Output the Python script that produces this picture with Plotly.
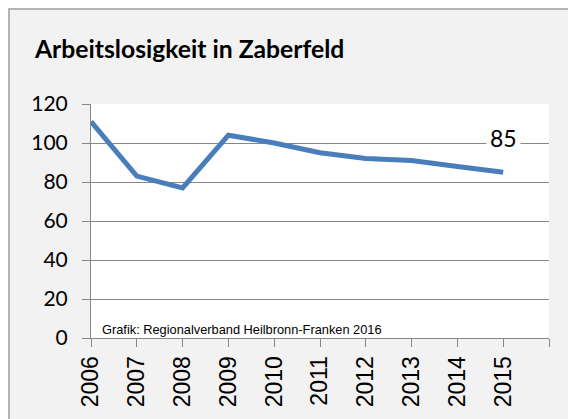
import plotly.graph_objects as go

years = [2006, 2007, 2008, 2009, 2010, 2011, 2012, 2013, 2014, 2015]
values = [111, 83, 77, 104, 100, 95, 92, 91, 88, 85]
tick_positions = [2006, 2007, 2008, 2009, 2010, 2011, 2012, 2013, 2014, 2015, 2016]
tick_labels = ["2006", "2007", "2008", "2009", "2010", "2011", "2012", "2013", "2014", "2015", ""]
y_ticks = [0, 20, 40, 60, 80, 100, 120]

title_text = "Arbeitslosigkeit in Zaberfeld"
source_text = "Grafik: Regionalverband Heilbronn-Franken 2016"

fig = go.Figure()
fig.add_trace(go.Scatter(
    x=years, y=values, mode="lines",
    line=dict(color="#4a7ebb", width=5),
    hoverinfo="skip", showlegend=False,
))

# page has an 8px body margin, so the figure is sized to fit the window
W, H = 568, 411
L, T, R, B = 83, 96, 27, 81
PW, PH = W - L - R, H - T - B
fig.update_layout(
    width=W, height=H,
    margin=dict(l=L, r=R, t=T, b=B, autoexpand=False),
    paper_bgcolor="#f2f2f2",
    plot_bgcolor="white",
    showlegend=False,
    font=dict(family="Lato, Liberation Sans, sans-serif", color="black"),
)

# outer chart frame border (left/top)
fig.add_shape(type="rect", xref="paper", yref="paper",
              x0=(-L + 1) / PW, x1=(W - L + 20) / PW, y0=-(B + 20) / PH, y1=1 + (T - 1) / PH,
              fillcolor="rgba(0,0,0,0)", line=dict(color="#a0a0a0", width=1.5), layer="below")

fig.update_xaxes(
    range=[2006, 2016], tickmode="array", tickvals=tick_positions, ticktext=tick_labels,
    tickangle=-90, ticks="outside", ticklen=8, tickcolor="#878787",
    showline=True, linecolor="#878787", linewidth=1, showgrid=False, zeroline=False,
    automargin=False,
    tickfont=dict(family="Liberation Sans, Arial", size=23, color="black"),
)
fig.update_yaxes(
    range=[0, 120], tickmode="array", tickvals=y_ticks,
    ticks="outside", ticklen=8, tickcolor="#878787",
    showline=True, linecolor="#878787", linewidth=1,
    showgrid=True, gridcolor="#878787", gridwidth=1, zeroline=False,
    automargin=False,
    tickfont=dict(family="Lato", size=21, color="black"),
    ticklabelstandoff=10,
)

fig.add_annotation(x=(24 - L) / PW, xref="paper", y=1 + 55 / PH, yref="paper", yanchor="middle",
                   text="<b>" + title_text + "</b>", showarrow=False, xanchor="left",
                   font=dict(family="Lato", size=24.7, color="black"))
fig.add_annotation(x=2006.2, y=4.5, text=source_text, showarrow=False,
                   xanchor="left", yanchor="middle",
                   font=dict(family="Liberation Sans, Arial", size=12.8, color="black"))
fig.add_annotation(x=years[-1], y=values[-1], text=str(values[-1]), showarrow=False,
                   yshift=34, bgcolor="white", borderpad=3,
                   font=dict(family="Lato", size=23, color="black"))

fig.write_html("out.html")
